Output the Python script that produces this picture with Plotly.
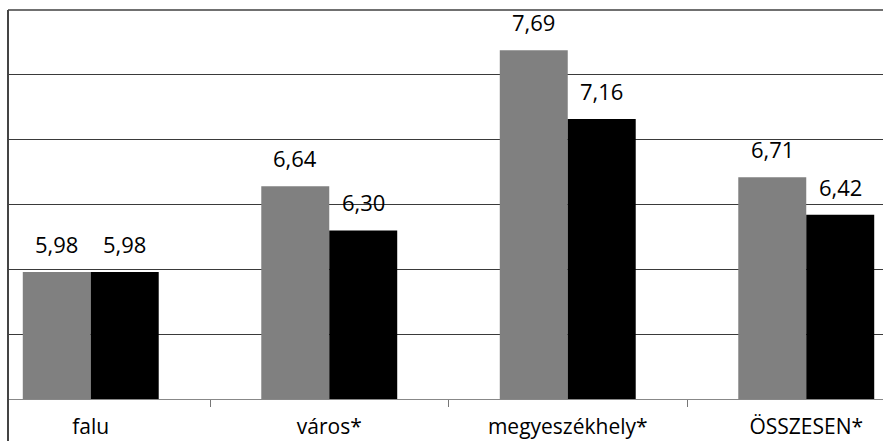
import plotly.graph_objects as go

categories = ["falu", "város*", "megyeszékhely*", "ÖSSZESEN*"]
series_a = [5.98, 6.64, 7.69, 6.71]   # gray
series_b = [5.98, 6.30, 7.16, 6.42]   # black
labels_a = ["5,98", "6,64", "7,69", "6,71"]
labels_b = ["5,98", "6,30", "7,16", "6,42"]

W, H = 883, 441
ML, MR, MT, MB = 8, 0, 10, 42
BARGAP = 0.43
FONT = "Open Sans"

fig = go.Figure()
fig.add_trace(go.Bar(x=categories, y=series_a, marker=dict(color="#808080", line=dict(width=0)),
                     name="A", showlegend=False))
fig.add_trace(go.Bar(x=categories, y=series_b, marker=dict(color="#000000", line=dict(width=0)),
                     name="B", showlegend=False))

plot_w = W - ML - MR
offset = (1 - BARGAP) / 4  # category units
px_per_cat = 238.5
shift_px = offset * px_per_cat

annotations = []
for c, v, t in zip(categories, series_a, labels_a):
    annotations.append(dict(x=c, y=v, text=t, showarrow=False, xshift=-shift_px, yshift=11,
                            yanchor="bottom", font=dict(family=FONT, size=22, color="#000")))
for c, v, t in zip(categories, series_b, labels_b):
    annotations.append(dict(x=c, y=v, text=t, showarrow=False, xshift=shift_px, yshift=11,
                            yanchor="bottom", font=dict(family=FONT, size=22, color="#000")))

# x range computed so that category centers land where the reference has them
x_left = -0.5 + (ML - (-28.5)) / px_per_cat
x_right = x_left + plot_w / px_per_cat

fig.update_layout(
    width=W, height=H,
    margin=dict(l=ML, r=MR, t=MT, b=MB, pad=0),
    paper_bgcolor="white", plot_bgcolor="white",
    barmode="group", bargap=BARGAP, bargroupgap=0,
    annotations=annotations,
    xaxis=dict(type="category", range=[x_left, x_right], tickson="boundaries", automargin=False,
               ticks="outside", ticklen=7, tickcolor="#777", tickwidth=1,
               showgrid=False, showline=True, linecolor="#888", linewidth=1,
               tickfont=dict(family=FONT, size=21, color="#000"), ticklabelstandoff=9),
    yaxis=dict(range=[5, 8], dtick=0.5, showticklabels=False, showgrid=True, automargin=False,
               gridcolor="#3a3a3a", gridwidth=1, zeroline=False, showline=False, ticks=""),
    shapes=[
        dict(type="line", xref="paper", yref="paper", x0=0, x1=1, y0=1, y1=1,
             line=dict(color="#707070", width=2)),
        dict(type="line", xref="paper", yref="paper", x0=0, x1=0, y0=-MB / (H - MT - MB) - 0.01, y1=1,
             line=dict(color="#444", width=2)),
    ],
)

fig.write_html("out.html")
